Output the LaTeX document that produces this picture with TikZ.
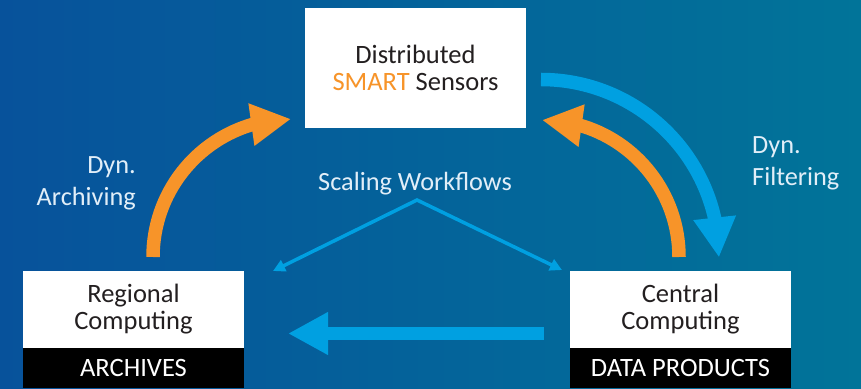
\documentclass[tikz,border=0pt]{standalone}
\usepackage{fontspec}
\setmainfont{Carlito}
\usetikzlibrary{arrows.meta,bending}
\definecolor{bgl}{RGB}{7,82,155}
\definecolor{bgr}{RGB}{1,116,153}
\definecolor{sorange}{RGB}{247,148,41}
\definecolor{sblue}{RGB}{0,160,225}
\definecolor{boxtext}{RGB}{35,31,32}
\definecolor{labeltext}{RGB}{225,238,248}
\begin{document}
\begin{tikzpicture}[x=1pt,y=1pt,
  whitebox/.style={fill=white, inner sep=0pt, align=center, text=boxtext, font=\fontsize{26.5}{27}\selectfont},
  blackbox/.style={fill=black, inner sep=0pt, align=center, text=white, text depth=0pt, font=\fontsize{26.5}{27}\selectfont},
  lbl/.style={text=labeltext, inner sep=0pt, font=\fontsize{26.3}{32}\selectfont},
  bigarrow/.style={line width=13.5pt, -{Triangle[length=40pt,width=40pt]}},
  thinarrow/.style={line width=3.5pt, sblue, line join=miter, {Triangle[length=12pt,width=12pt]}-{Triangle[length=12pt,width=12pt]}}
]
\useasboundingbox (0,0) rectangle (861,388);
\shade[left color=bgl,right color=bgr] (0,0) rectangle (861,388);

% boxes
\node[whitebox, minimum width=221pt, minimum height=120pt] (sensors) at (415.5,320) {Distributed\\\textcolor{sorange}{SMART} Sensors};
\node[whitebox, minimum width=221pt, minimum height=77pt] (regional) at (133.5,78.5) {Regional\\Computing};
\node[blackbox, minimum width=221pt, minimum height=40pt] (archives) at (133.5,20) {ARCHIVES};
\node[whitebox, minimum width=221pt, minimum height=77pt] (central) at (680.5,78.5) {Central\\Computing};
\node[blackbox, minimum width=221pt, minimum height=40pt] (products) at (680.5,20) {DATA PRODUCTS};

% labels
\node[lbl, align=right, anchor=north east] (archiving) at (136,232) {Dyn.\\Archiving};
\node[lbl, align=left, anchor=north west] (filtering) at (752,252) {Dyn.\\Filtering};
\node[lbl, anchor=north] (scaling) at (415,216) {Scaling Workflows};

% arc arrows
\coordinate (laS) at (153,131);
\draw[bigarrow, sorange] (laS) arc[start angle=180, end angle=90, radius=138];
\coordinate (bS) at (541,308.5);
\draw[bigarrow, sblue] (bS) arc[start angle=90, end angle=0, radius=178];
\coordinate (roS) at (679,131);
\draw[bigarrow, sorange] (roS) arc[start angle=0, end angle=90, radius=137];

% horizontal arrow
\coordinate (hS) at (544,54.5);
\coordinate (hE) at (288,54.5);
\draw[bigarrow, sblue] (hS) -- (hE);

% scaling workflows
\coordinate (peak) at (417,188);
\coordinate (swL) at (273,117);
\coordinate (swR) at (562,118);
\draw[thinarrow] (swL) -- (peak) -- (swR);
\end{tikzpicture}
\end{document}
